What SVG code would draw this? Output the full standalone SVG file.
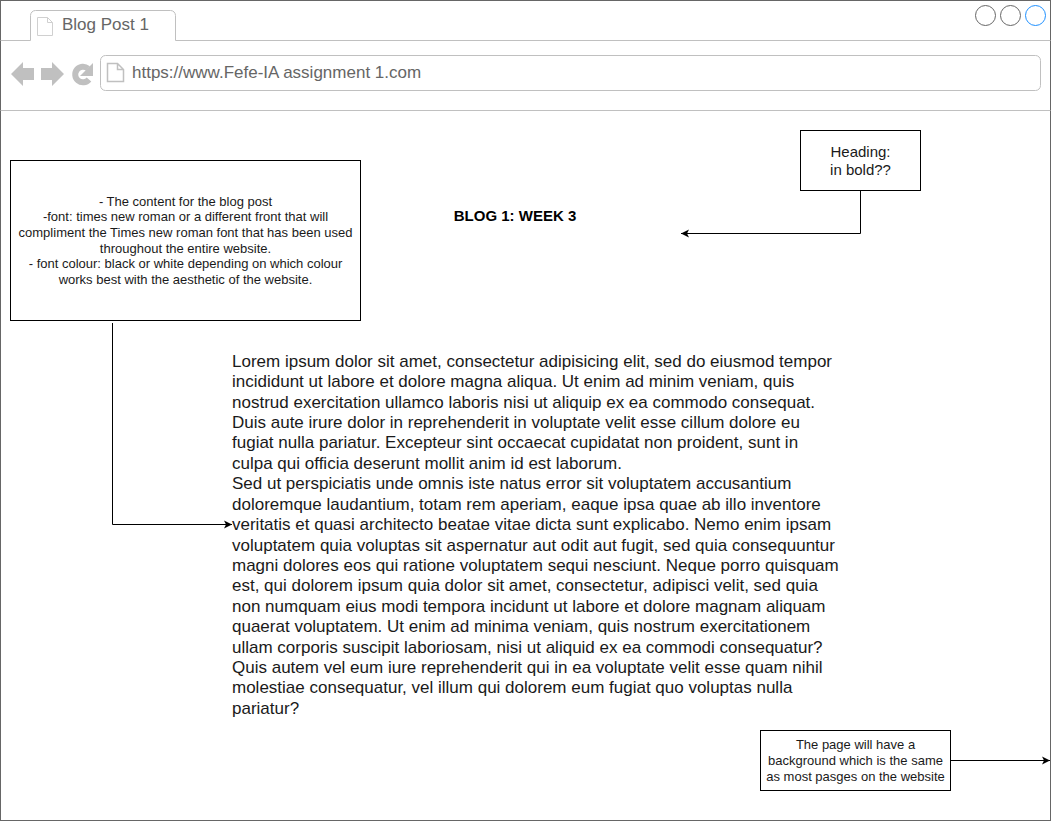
<svg xmlns="http://www.w3.org/2000/svg" width="1060" height="822" viewBox="0 0 1060 822">
<style>
text{font-family:"Liberation Sans",Arial,Helvetica,sans-serif;fill:#000}
.box{fill:#fff;stroke:#000;stroke-width:1}
.lg{fill:none;stroke:#c0c0c0;stroke-width:1}
.gf{fill:#c0c0c0;stroke:none}
.edge{fill:none;stroke:#000;stroke-width:1}
.n13{font-size:13px;text-anchor:middle;fill:#1a1a1a}
.n15{font-size:15px;text-anchor:middle;fill:#1a1a1a}
.body{font-size:17px;fill:#1a1a1a}
.ui{font-size:17px;fill:#666}
</style>
<defs>
<marker id="arr" markerUnits="userSpaceOnUse" markerWidth="10" markerHeight="10" refX="8" refY="4" orient="auto" overflow="visible"><path d="M0 0L8 4L0 8L2 4Z" fill="#000"/></marker>
</defs>
<rect width="1060" height="822" fill="#fff"/>
<g id="browser">
<rect x="0.5" y="0.5" width="1050" height="820" fill="#fff" stroke="#666"/>
<path class="lg" d="M0.5 40.5H30.5V15.500A5 5 0 0 1 35.500 10.500H170.500A5 5 0 0 1 175.500 15.500V40.500H1050.500"/>
<path class="lg" d="M0.500 110.500H1050.500"/>
<rect class="lg" x="100.500" y="55.500" width="940" height="35" rx="5"/>
<path d="M37.500 35.500V17.500H47.500L52.500 22.500V35.500Z M47.500 17.500V22.500H52.500" fill="none" stroke="#d0d0d0"/>
<path d="M107.500 81.500V63.500H117.500L123.500 69.500V81.500Z M117.500 63.500V69.500H123.500" fill="none" stroke="#c0c0c0" stroke-width="1.500"/>
<path class="gf" d="M11 74L23 62V68H34V80H23V86Z"/>
<path class="gf" d="M64 74L52 62V68H41V80H52V86Z"/>
<path d="M88 68.500A7.800 7.800 0 1 0 89 79.500" fill="none" stroke="#c0c0c0" stroke-width="6"/>
<path class="gf" d="M93 63V76H80Z"/>
<circle cx="985.500" cy="15.500" r="10" fill="#fff" stroke="#666"/>
<circle cx="1010.500" cy="15.500" r="10" fill="#fff" stroke="#666"/>
<circle cx="1035.500" cy="15.500" r="10" fill="#fff" stroke="#1e90ff"/>
<text class="ui" x="62" y="30">Blog Post 1</text>
<text class="ui" x="132" y="78">https://www.Fefe-IA assignment 1.com</text>
</g>
<g id="connectors">
<path class="edge" d="M860.500 190.500V233.500H681" marker-end="url(#arr)"/>
<path class="edge" d="M112.500 323V524.500H232" marker-end="url(#arr)"/>
<path class="edge" d="M950.500 760.500H1050" marker-end="url(#arr)"/>
</g>
<g id="content-note">
<rect class="box" x="10.500" y="160.500" width="350" height="160"/>
<text class="n13" x="185.500" y="206">- The content for the blog post</text>
<text class="n13" x="185.500" y="221">-font: times new roman or a different front that will</text>
<text class="n13" x="185.500" y="237">compliment the Times new roman font that has been used</text>
<text class="n13" x="185.500" y="253">throughout the entire website.</text>
<text class="n13" x="185.500" y="268">- font colour: black or white depending on which colour</text>
<text class="n13" x="185.500" y="284">works best with the aesthetic of the website.</text>
</g>
<g id="heading-note">
<rect class="box" x="800.500" y="130.500" width="120" height="60"/>
<text class="n15" x="860.500" y="157">Heading:</text>
<text class="n15" x="860.500" y="175">in bold??</text>
</g>
<g id="background-note">
<rect class="box" x="760.500" y="730.500" width="190" height="60"/>
<text class="n13" x="855.500" y="749">The page will have a</text>
<text class="n13" x="855.500" y="765">background which is the same</text>
<text class="n13" x="855.500" y="781">as most pasges on the website</text>
</g>
<g id="title">
<text x="515" y="221" font-size="15" font-weight="bold" text-anchor="middle">BLOG 1: WEEK 3</text>
</g>
<g id="body-text">
<text class="body" x="232" y="367">Lorem ipsum dolor sit amet, consectetur adipisicing elit, sed do eiusmod tempor</text>
<text class="body" x="232" y="387">incididunt ut labore et dolore magna aliqua. Ut enim ad minim veniam, quis</text>
<text class="body" x="232" y="408">nostrud exercitation ullamco laboris nisi ut aliquip ex ea commodo consequat.</text>
<text class="body" x="232" y="428">Duis aute irure dolor in reprehenderit in voluptate velit esse cillum dolore eu</text>
<text class="body" x="232" y="448">fugiat nulla pariatur. Excepteur sint occaecat cupidatat non proident, sunt in</text>
<text class="body" x="232" y="469">culpa qui officia deserunt mollit anim id est laborum.</text>
<text class="body" x="232" y="489">Sed ut perspiciatis unde omnis iste natus error sit voluptatem accusantium</text>
<text class="body" x="232" y="510">doloremque laudantium, totam rem aperiam, eaque ipsa quae ab illo inventore</text>
<text class="body" x="232" y="530">veritatis et quasi architecto beatae vitae dicta sunt explicabo. Nemo enim ipsam</text>
<text class="body" x="232" y="551">voluptatem quia voluptas sit aspernatur aut odit aut fugit, sed quia consequuntur</text>
<text class="body" x="232" y="571">magni dolores eos qui ratione voluptatem sequi nesciunt. Neque porro quisquam</text>
<text class="body" x="232" y="591">est, qui dolorem ipsum quia dolor sit amet, consectetur, adipisci velit, sed quia</text>
<text class="body" x="232" y="612">non numquam eius modi tempora incidunt ut labore et dolore magnam aliquam</text>
<text class="body" x="232" y="632">quaerat voluptatem. Ut enim ad minima veniam, quis nostrum exercitationem</text>
<text class="body" x="232" y="653">ullam corporis suscipit laboriosam, nisi ut aliquid ex ea commodi consequatur?</text>
<text class="body" x="232" y="673">Quis autem vel eum iure reprehenderit qui in ea voluptate velit esse quam nihil</text>
<text class="body" x="232" y="693">molestiae consequatur, vel illum qui dolorem eum fugiat quo voluptas nulla</text>
<text class="body" x="232" y="714">pariatur?</text>
</g>
</svg>
